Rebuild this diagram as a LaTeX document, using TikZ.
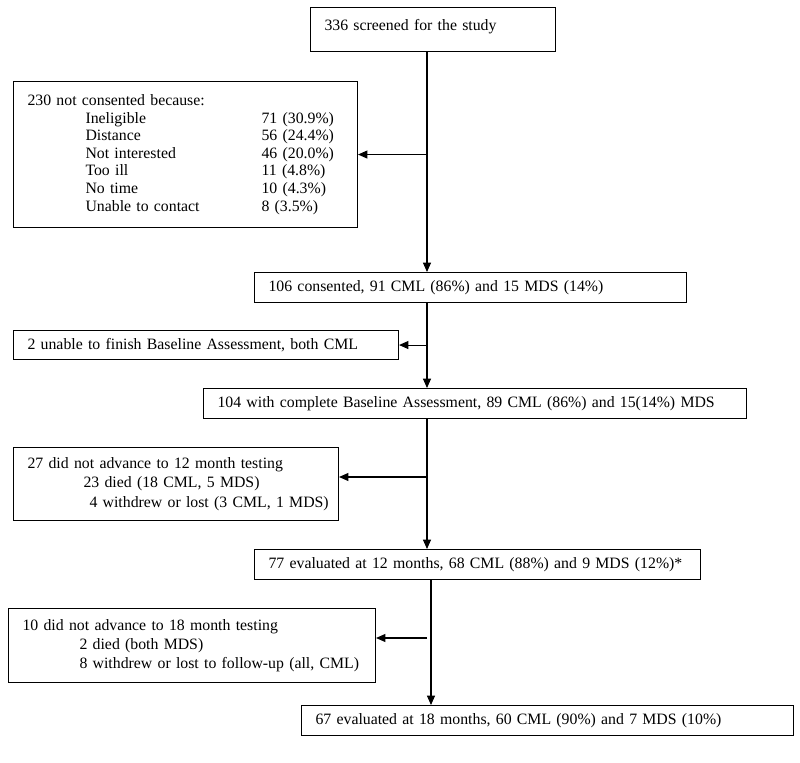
\documentclass[tikz,border=0pt]{standalone}
\usepackage{fontspec}
\setmainfont{Liberation Serif}
\usetikzlibrary{arrows.meta}
\begin{document}
\begin{tikzpicture}[x=0.75pt,y=-0.75pt,
  box/.style={draw, line width=0.8pt, anchor=north west, inner xsep=10.5pt, inner ysep=0pt,
    align=left, font=\fontsize{11.85}{14.2}\selectfont},
  arr/.style={line width=0.8pt, -{Triangle[length=7pt,width=6pt]}}]
\useasboundingbox (0,0) rectangle (800,763);
\coordinate (spine) at (427,0);
\coordinate (spineb) at (431,0);

\node[box, text width=162.75pt, minimum height=33pt] (b1) at (310,7)
  {\mbox{336 screened for the study}\rule[-7pt]{0pt}{7pt}};

\node[box, text width=237pt, minimum height=109.5pt, font=\fontsize{11.85}{13.2}\selectfont] (b2) at (13,81)
  {\mbox{230 not consented because:}\\
   \hspace*{43.5pt}\makebox[132pt][l]{Ineligible}71 (30.9\%)\\
   \hspace*{43.5pt}\makebox[132pt][l]{Distance}56 (24.4\%)\\
   \hspace*{43.5pt}\makebox[132pt][l]{Not interested}46 (20.0\%)\\
   \hspace*{43.5pt}\makebox[132pt][l]{Too ill}11 (4.8\%)\\
   \hspace*{43.5pt}\makebox[132pt][l]{No time}10 (4.3\%)\\
   \hspace*{43.5pt}\makebox[132pt][l]{Unable to contact}8 (3.5\%)};

\node[box, text width=303pt, minimum height=22.5pt] (b3) at (254,272)
  {\mbox{106 consented, 91 CML (86\%) and 15 MDS (14\%)}};

\node[box, text width=267.75pt, minimum height=21.75pt] (b4) at (13,330)
  {\mbox{2 unable to finish Baseline Assessment, both CML}};

\node[box, text width=386.25pt, minimum height=22.5pt] (b5) at (203,388)
  {\mbox{104 with complete Baseline Assessment, 89 CML (86\%) and 15(14\%) MDS}};

\node[box, text width=222.75pt, minimum height=54.75pt, font=\fontsize{11.85}{14.7}\selectfont] (b6) at (13,447)
  {\mbox{27 did not advance to 12 month testing}\\
   \hspace*{42pt}\mbox{23 died (18 CML, 5 MDS)}\\
   \hspace*{46.5pt}\mbox{4 withdrew or lost (3 CML, 1 MDS)}};

\node[box, text width=313.5pt, minimum height=22.5pt] (b7) at (254,549)
  {\mbox{77 evaluated at 12 months, 68 CML (88\%) and 9 MDS (12\%)*}};

\node[box, text width=254.25pt, minimum height=55.5pt, font=\fontsize{11.85}{14}\selectfont] (b8) at (8,608)
  {\mbox{10 did not advance to 18 month testing}\\
   \hspace*{42.75pt}\mbox{2 died (both MDS)}\\
   \hspace*{42.75pt}\mbox{8 withdrew or lost to follow-up (all, CML)}};

\node[box, text width=348pt, minimum height=22.5pt] (b9) at (301,705)
  {\mbox{67 evaluated at 18 months, 60 CML (90\%) and 7 MDS (10\%)}};

\coordinate (j6) at (427,477);
\coordinate (j8) at (427,638);

\draw[arr] (b1.south -| spine) -- (b3.north -| spine);
\draw[arr] (b2.east -| spine) -- (b2.east);
\draw[arr] (b3.south -| spine) -- (b5.north -| spine);
\draw[arr] (b4.east -| spine) -- (b4.east);
\draw[arr] (b5.south -| spine) -- (b7.north -| spine);
\draw[arr] (j6) -- (j6 -| b6.east);
\draw[arr] (b7.south -| spineb) -- (b9.north -| spineb);
\draw[arr] (j8) -- (j8 -| b8.east);
\end{tikzpicture}
\end{document}
